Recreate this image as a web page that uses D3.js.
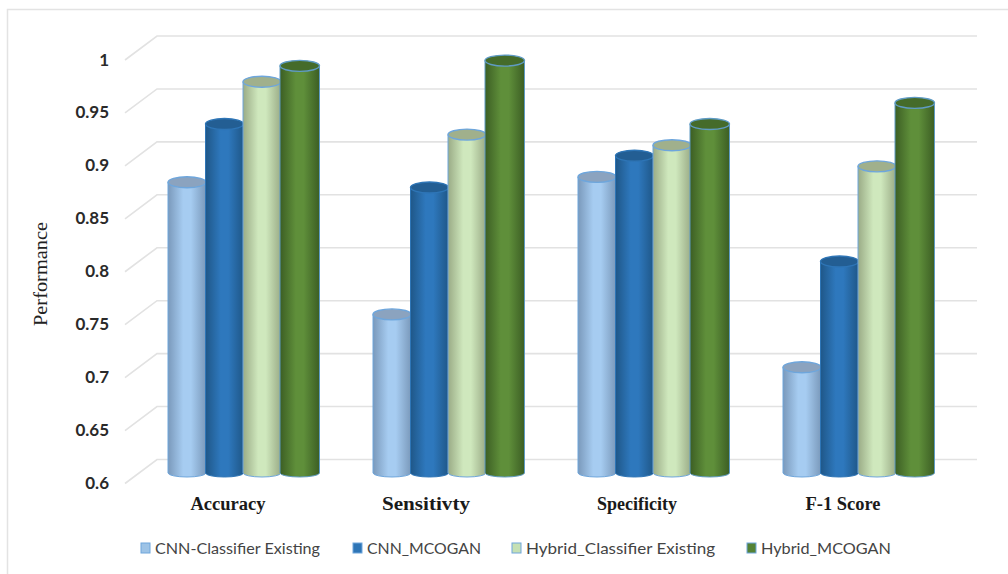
<!DOCTYPE html>
<html>
<head>
<meta charset="utf-8">
<script src="https://cdn.jsdelivr.net/npm/d3@7"></script>
<style>
html,body{margin:0;padding:0;background:#fff;}
svg{display:block;}
</style>
</head>
<body>
<svg id="chart" width="1008" height="574"></svg>
<script>
// Chart content
const categories = ["Accuracy", "Sensitivty", "Specificity", "F-1 Score"];
const seriesNames = ["CNN-Classifier Existing", "CNN_MCOGAN", "Hybrid_Classifier Existing", "Hybrid_MCOGAN"];
const cnnClassifier = [0.875, 0.75, 0.88, 0.70];
const cnnMcogan = [0.93, 0.87, 0.90, 0.80];
const hybridClassifier = [0.97, 0.92, 0.91, 0.89];
const hybridMcogan = [0.985, 0.99, 0.93, 0.95];
const tickValues = [0.6, 0.65, 0.7, 0.75, 0.8, 0.85, 0.9, 0.95, 1];
const tickLabels = ["0.6", "0.65", "0.7", "0.75", "0.8", "0.85", "0.9", "0.95", "1"];

const seriesValues = [cnnClassifier, cnnMcogan, hybridClassifier, hybridMcogan];

// Colour ramps for each cylinder: edge, centre, cap, outline
const palette = [
  {edge:"#7a99bb", mid:"#a6ccf1", cap:"#8ba3bf", line:"#6ea6dc", swatch:"#9dc3e6"},
  {edge:"#1f5788", mid:"#2e78bd", cap:"#235e93", line:"#2e75b6", swatch:"#2e75b6"},
  {edge:"#9aab86", mid:"#cfe8bd", cap:"#a0b08c", line:"#6ea6dc", swatch:"#c5e0b4"},
  {edge:"#3c5e24", mid:"#5f8f3a", cap:"#456b2a", line:"#5f9bc4", swatch:"#548235"}
];

// Label placement along the bottom of the chart
const categoryCentres = [228, 426, 637, 843];
const categoryWidths = [75, 88, 80, 75];
const legendSwatchX = [141, 353, 512, 747];
const legendTextWidths = [165, 114, 189, 130];

const svg = d3.select("#chart");
const calibriLike = "Lato,'Open Sans',sans-serif";
const serifFont = "'Liberation Serif',serif";

// Outer chart frame
svg.append("path")
  .attr("d", "M7.5,574V9.5H1008")
  .attr("fill", "none").attr("stroke", "#e3e3e3").attr("stroke-width", 1.5);

// Horizontal shading that gives each bar its rounded look
const defs = svg.append("defs");
palette.forEach((p, i) => {
  const g = defs.append("linearGradient").attr("id", "cyl" + i)
    .attr("x1", 0).attr("x2", 1).attr("y1", 0).attr("y2", 0);
  [[0, p.edge], [0.4, p.mid], [0.6, p.mid], [1, p.edge]].forEach(([o, c]) =>
    g.append("stop").attr("offset", o).attr("stop-color", c));
});

// Scales: the front edge carries the labels, the back wall sits up and to the right
const valueY = d3.scaleLinear().domain([0.6, 1]).range([483.5, 60]);
const cylinderY = d3.scaleLinear().domain([0.6, 1]).range([473, 50]);
const groupX = d3.scaleBand().domain(categories).range([131, 951]);
const barX = d3.scaleBand().domain(d3.range(4)).range([37, 187]);
const frontX = 125, depthX = 32, depthY = 24, wallRight = 977;

// Gridlines: slanted side segment, then the run along the back wall
svg.append("g").selectAll("path").data(tickValues).join("path")
  .attr("d", v => `M${frontX},${valueY(v)}L${frontX + depthX},${valueY(v) - depthY}H${wallRight}`)
  .attr("fill", "none").attr("stroke", "#e2e2e2").attr("stroke-width", 1.6);

// Tick labels
svg.append("g").selectAll("text").data(tickValues).join("text")
  .attr("x", 109).attr("y", v => valueY(v) + 5.5)
  .attr("text-anchor", "end")
  .attr("font-family", calibriLike).attr("font-size", 17).attr("font-weight", 700)
  .attr("fill", "#2a2a2a")
  .text((v, i) => tickLabels[i]);

// Y axis title
svg.append("text")
  .attr("transform", "translate(47,274) rotate(-90)")
  .attr("text-anchor", "middle")
  .attr("font-family", serifFont).attr("font-size", 18)
  .attr("textLength", 104).attr("lengthAdjust", "spacingAndGlyphs")
  .attr("fill", "#222").text("Performance");

// Cylinders
const capRy = 5.5, baseRy = 4;
const groups = svg.append("g").selectAll("g").data(categories).join("g")
  .attr("transform", c => `translate(${groupX(c)},0)`);

groups.each(function(cat, ci) {
  const g = d3.select(this);
  seriesValues.forEach((vals, si) => {
    const p = palette[si];
    const last = si === seriesValues.length - 1;
    const w = last ? 39.5 : barX.bandwidth() + 0.5;
    const x = barX(si) - (last ? 0.5 : 0);
    const rx = w / 2;
    const top = cylinderY(vals[ci]);
    const base = cylinderY(0.6);
    g.append("path")
      .attr("d", `M${x},${top}V${base}A${rx},${baseRy} 0 0 0 ${x + w},${base}V${top}Z`)
      .attr("fill", `url(#cyl${si})`)
      .attr("stroke", p.line).attr("stroke-width", 1);
    g.append("ellipse")
      .attr("cx", x + rx).attr("cy", top).attr("rx", rx).attr("ry", capRy)
      .attr("fill", p.cap).attr("stroke", p.line).attr("stroke-width", 1.4);
  });
});

// Category labels
svg.append("g").selectAll("text").data(categories).join("text")
  .attr("x", (c, i) => categoryCentres[i])
  .attr("y", 510)
  .attr("text-anchor", "middle")
  .attr("font-family", serifFont).attr("font-size", 18).attr("font-weight", 700)
  .attr("textLength", (c, i) => categoryWidths[i]).attr("lengthAdjust", "spacingAndGlyphs")
  .attr("fill", "#1a1a1a")
  .text(c => c);

// Legend
const legend = svg.append("g").selectAll("g").data(seriesNames).join("g")
  .attr("transform", (d, i) => `translate(${legendSwatchX[i]},543)`);
legend.append("rect")
  .attr("width", 9).attr("height", 10)
  .attr("fill", (d, i) => palette[i].swatch)
  .attr("stroke", "#6ea6dc").attr("stroke-width", 1);
legend.append("text")
  .attr("x", 14).attr("y", 10.5)
  .attr("font-family", calibriLike).attr("font-size", 16)
  .attr("textLength", (d, i) => legendTextWidths[i]).attr("lengthAdjust", "spacingAndGlyphs")
  .attr("fill", "#444")
  .text(d => d);
</script>
</body>
</html>
